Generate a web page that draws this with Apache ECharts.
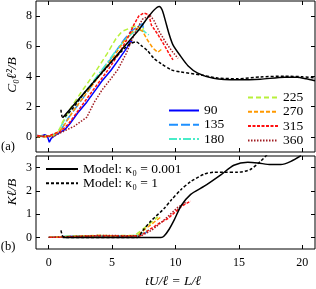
<!DOCTYPE html>
<html><head><meta charset="utf-8">
<script src="https://cdn.jsdelivr.net/npm/echarts@6/dist/echarts.min.js"></script>
<style>html,body{margin:0;padding:0;background:#fff}#c{width:316px;height:289px}</style>
</head><body><div id="c"></div>
<script>
// ---------- data ----------
const xTicks = [0, 5, 10, 15, 20];
const yTicksTop = [0, 2, 4, 6, 8];
const yTicksBottom = [0, 1, 2, 3];
const angleNames = ['90', '135', '180', '225', '270', '315', '360'];
const modelNames = ['Model: κ₀ = 0.001', 'Model: κ₀ = 1'];

// top panel: C0 l^2 / B
const top90 = [[-0.9,0.1],[-0.6,0.05],[-0.3,0.15],[-0.1,0.05],[0.05,-0.35],[0.2,-0.1],[0.5,0.1],[0.9,0.3],[1.3,0.5],[1.7,0.9],[2.3,1.6],[3.0,2.3],[3.6,3.0],[4.2,3.7],[4.9,4.4],[5.5,5.1],[6.0,5.7],[6.2,5.95],[6.45,6.35],[6.6,6.25]];
const top135 = [[-0.9,0.05],[-0.5,0.1],[0.0,0.0],[0.5,0.15],[1.0,0.5],[1.5,1.2],[2.2,2.0],[3.0,2.9],[3.8,3.9],[4.6,4.8],[5.4,5.8],[6.0,6.5],[6.5,7.0],[7.0,7.3],[7.4,7.5],[7.5,7.0]];
const top180 = [[-0.9,0.1],[-0.4,0.0],[0.2,0.1],[0.7,0.3],[1.1,0.9],[1.6,1.7],[2.3,2.4],[3.0,3.1],[3.8,4.0],[4.6,4.9],[5.3,5.7],[5.9,6.3],[6.5,6.8],[7.0,7.1],[7.5,7.0],[7.9,6.75]];
const top225 = [[-0.9,0.0],[-0.3,0.1],[0.3,0.0],[0.8,0.4],[1.1,1.0],[1.8,2.0],[2.6,3.0],[3.6,4.2],[4.6,5.5],[5.3,6.5],[5.8,7.0],[6.4,7.2],[7.0,7.4],[7.3,7.0],[7.5,7.2]];
const top270 = [[-0.9,0.05],[-0.3,0.0],[0.3,0.1],[0.9,0.4],[1.4,1.0],[2.0,1.8],[2.8,2.7],[3.6,3.6],[4.4,4.5],[5.2,5.4],[5.9,6.3],[6.5,6.9],[7.0,7.2],[7.4,7.0],[7.8,6.4],[8.2,5.9],[8.6,5.6],[8.9,5.8]];
const top315 = [[-0.9,0.1],[-0.2,0.0],[0.4,0.2],[1.0,0.4],[1.6,0.9],[2.55,2.0],[3.5,3.1],[4.3,4.0],[4.9,4.7],[5.6,5.6],[6.2,6.5],[6.7,7.4],[7.1,8.0],[7.5,8.2],[7.9,8.1],[8.1,7.4],[8.6,6.8],[9.1,6.1],[9.5,5.5],[9.8,5.1]];
const top360 = [[-0.9,0.0],[-0.3,0.1],[0.3,0.0],[1.0,0.3],[2.0,0.7],[3.0,1.3],[3.6,2.3],[4.2,3.1],[4.86,3.8],[5.44,4.44],[6.1,5.5],[6.8,6.9],[7.4,7.8],[8.0,8.05],[8.3,7.7],[8.7,7.0],[9.2,6.3],[9.7,5.7],[10.2,5.2]];
const topModelA = [[1.1,1.27],[3.0,3.1],[5.0,5.05],[7.0,6.98],[8.72,8.64],[8.95,8.4],[9.2,7.7],[9.5,6.8],[9.8,6.1],[10.4,5.35],[11.0,4.7],[11.75,4.22],[13.0,3.88],[14.9,3.78],[16.7,3.82],[18.6,3.95],[19.6,3.95],[20.3,3.85],[21.0,3.72]];
const topModelB = [[0.97,1.8],[1.1,1.3],[3.0,3.1],[5.0,5.0],[5.6,5.55],[6.1,5.95],[6.5,6.2],[6.88,6.3],[7.3,6.05],[7.8,5.7],[8.3,5.2],[8.86,4.85],[9.65,4.45],[10.4,4.3],[12.0,4.1],[13.3,3.9],[14.9,3.85],[16.7,3.97],[18.6,4.02],[20.0,3.98],[21.0,3.9]];

// bottom panel: K l / B
const bot90 = [[0,0],[1,0.02],[2,0.05],[3,0.04],[4,0.05],[5,0.03],[6,0.04],[6.6,0.03]];
const bot135 = [[0,0],[1,0.03],[2,0.06],[3,0.05],[4,0.07],[5,0.06],[6,0.06],[7,0.08],[7.5,0.15],[7.8,0.25]];
const bot180 = [[0,0],[1,0.02],[2,0.07],[3,0.06],[4,0.05],[5,0.07],[6,0.06],[7,0.09],[7.5,0.2],[7.9,0.32]];
const bot225 = [[0,0],[1,0.03],[2,0.05],[3,0.07],[4,0.08],[5,0.07],[6,0.08],[6.8,0.08],[7.3,0.3],[8.0,0.6],[8.6,0.88]];
const bot270 = [[0,0],[1,0.02],[2,0.04],[3,0.06],[4,0.08],[5,0.07],[6,0.07],[7.0,0.07],[7.6,0.35],[8.3,0.65],[8.9,0.9]];
const bot315 = [[0,0],[1,0.01],[2,0.03],[3,0.05],[4,0.06],[5,0.06],[6,0.05],[7.2,0.06],[8.0,0.35],[8.7,0.6],[9.38,0.8],[10.0,1.1],[10.5,1.35],[11.2,1.56]];
const bot360 = [[0,0],[1,0.02],[2,0.04],[3,0.06],[4,0.08],[5,0.08],[6,0.07],[7.3,0.07],[8.1,0.3],[8.9,0.65],[9.6,1.0],[10.2,1.3],[10.8,1.5]];
const botModelA = [[1.1,0],[8.86,0],[9.1,0.06],[9.5,0.35],[9.9,0.75],[10.43,1.35],[11.2,1.85],[12.27,2.2],[13.6,2.7],[14.6,3.1],[15.7,3.23],[16.5,3.2],[17.5,3.13],[18.3,3.13],[19.1,3.27],[19.9,3.52]];
const botModelB = [[0.97,0.3],[1.1,0.05],[1.3,0],[7.0,0],[7.4,0.28],[8.07,0.71],[9.12,1.25],[9.65,1.6],[10.43,2.05],[11.2,2.4],[12.27,2.72],[13.0,2.8],[14.0,2.8],[14.9,2.8],[15.9,2.92],[16.7,3.27],[17.3,3.6]];

// ---------- styling ----------
const FONT = 'Liberation Serif';
const colors = ['#0000ff', '#1e90ff', '#48ecc8', '#b8f03a', '#ff9900', '#ff1010', '#a01c22'];
const dashes = ['solid', [9,3], [8,2,2,2], [5,3], [4,2], [3,1.5], [1.5,1.5]];
const topData = [top90, top135, top180, top225, top270, top315, top360];
const botData = [bot90, bot135, bot180, bot225, bot270, bot315, bot360];

const series = [];
function expSeries(i, data, ax) {
  return { name: angleNames[i], type: 'line', data: data, xAxisIndex: ax, yAxisIndex: ax,
    symbol: 'none', silent: true, animation: false,
    lineStyle: { color: colors[i], width: 1.5, type: dashes[i] }, itemStyle: { color: colors[i] } };
}
function modelSeries(j, data, ax) {
  return { name: modelNames[j], type: 'line', data: data, xAxisIndex: ax, yAxisIndex: ax,
    symbol: 'none', silent: true, animation: false, smooth: 0.25, z: 5,
    lineStyle: { color: '#000', width: 1.5, type: j === 0 ? 'solid' : [3,2] }, itemStyle: { color: '#000' } };
}
for (let i = 0; i < 7; i++) series.push(expSeries(i, topData[i], 0));
for (let i = 0; i < 7; i++) series.push(expSeries(i, botData[i], 2));
series.push(modelSeries(0, topModelA, 0), modelSeries(1, topModelB, 0));
series.push(modelSeries(0, botModelA, 2), modelSeries(1, botModelB, 2));

const tickStyle = { show: true, inside: true, length: 4, lineStyle: { color: '#000', width: 1 } };
const labelStyle = { fontFamily: FONT, fontSize: 12, color: '#000' };
function xAx(grid, pos, labels) {
  return { type: 'value', gridIndex: grid, position: pos, min: -1, max: 21,
    axisLine: { show: false, onZero: false }, splitLine: { show: false },
    axisTick: Object.assign({ customValues: xTicks }, tickStyle),
    axisLabel: Object.assign({ show: labels, customValues: xTicks, margin: 8 }, labelStyle) };
}
function yAx(grid, pos, labels, min, max, ticks) {
  return { type: 'value', gridIndex: grid, position: pos, min: min, max: max,
    axisLine: { show: false, onZero: false }, splitLine: { show: false },
    axisTick: Object.assign({ customValues: ticks }, tickStyle),
    axisLabel: Object.assign({ show: labels, customValues: ticks, margin: 4 }, labelStyle) };
}
const legendCommon = { orient: 'vertical', padding: 0, selectedMode: false,
  itemStyle: { color: 'rgba(0,0,0,0)', borderWidth: 0, opacity: 0 } };

const option = {
  animation: false,
  backgroundColor: '#fff',
  grid: [
    { left: 36, right: 1, top: 1, height: 151, show: true, borderColor: '#000', borderWidth: 1, backgroundColor: 'transparent' },
    { left: 36, right: 1, top: 156, height: 93, show: true, borderColor: '#000', borderWidth: 1, backgroundColor: 'transparent' }
  ],
  xAxis: [xAx(0, 'bottom', false), xAx(0, 'top', false), xAx(1, 'bottom', true), xAx(1, 'top', false)],
  yAxis: [yAx(0, 'left', true, -1, 9, yTicksTop), yAx(0, 'right', false, -1, 9, yTicksTop),
          yAx(1, 'left', true, -0.5, 3.5, yTicksBottom), yAx(1, 'right', false, -0.5, 3.5, yTicksBottom)],
  legend: [
    Object.assign({ data: angleNames.slice(0, 3), left: 168, top: 103.5,
      itemWidth: 30, itemHeight: 13, itemGap: 0.3,
      textStyle: { fontFamily: FONT, fontSize: 13.5, color: '#000', lineHeight: 13 } }, legendCommon),
    Object.assign({ data: angleNames.slice(3), left: 247, top: 90.5,
      itemWidth: 30, itemHeight: 13, itemGap: 0.3,
      textStyle: { fontFamily: FONT, fontSize: 13.5, color: '#000', lineHeight: 13 } }, legendCommon),
    Object.assign({ data: modelNames, left: 45, top: 162,
      itemWidth: 32, itemHeight: 14, itemGap: 0.3,
      textStyle: { fontFamily: FONT, fontSize: 13.5, color: '#000', lineHeight: 14 } }, legendCommon)
  ],
  graphic: [
    { type: 'text', x: 12, y: 75, rotation: Math.PI / 2,
      style: { text: 'C₀ℓ²/B', fontFamily: FONT, fontStyle: 'italic', fontSize: 13.5, fill: '#000', textAlign: 'center', textVerticalAlign: 'middle' } },
    { type: 'text', x: 12, y: 192, rotation: Math.PI / 2,
      style: { text: 'Kℓ/B', fontFamily: FONT, fontStyle: 'italic', fontSize: 13.5, fill: '#000', textAlign: 'center', textVerticalAlign: 'middle' } },
    { type: 'text', x: 173, y: 281,
      style: { text: 'tU/ℓ = L/ℓ', fontFamily: FONT, fontStyle: 'italic', fontSize: 13.5, fill: '#000', textAlign: 'center', textVerticalAlign: 'middle' } },
    { type: 'text', x: 8, y: 147,
      style: { text: '(a)', fontFamily: FONT, fontSize: 12.5, fill: '#000', textAlign: 'center', textVerticalAlign: 'middle' } },
    { type: 'text', x: 8, y: 247,
      style: { text: '(b)', fontFamily: FONT, fontSize: 12.5, fill: '#000', textAlign: 'center', textVerticalAlign: 'middle' } }
  ],
  series: series
};
const chart = echarts.init(document.getElementById('c'), null, { renderer: 'canvas' });
chart.setOption(option);
</script></body></html>
